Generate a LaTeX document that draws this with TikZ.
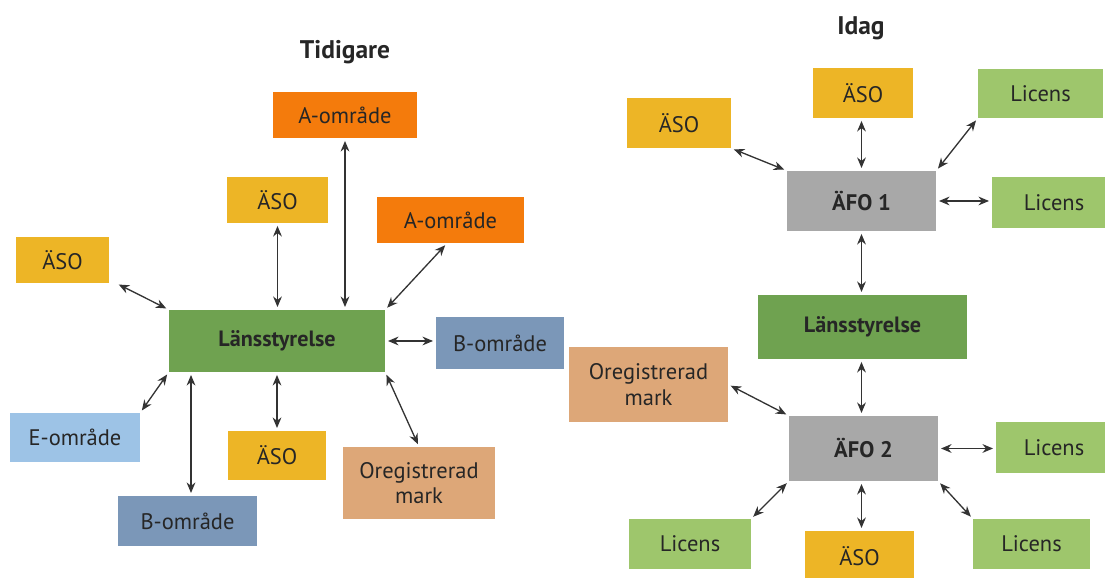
\documentclass[tikz,border=0pt]{standalone}
\usepackage{fontspec}
\setmainfont{PT Sans}
\usetikzlibrary{arrows.meta}

\definecolor{asoyel}{HTML}{EDB526}
\definecolor{aorange}{HTML}{F47B0C}
\definecolor{bblue}{HTML}{7B97B8}
\definecolor{eblue}{HTML}{9DC3E6}
\definecolor{oregtan}{HTML}{DDA778}
\definecolor{lansgreen}{HTML}{6FA250}
\definecolor{afogray}{HTML}{A8A8A8}
\definecolor{licgreen}{HTML}{9EC66C}

\begin{document}
\begin{tikzpicture}[
  every node/.style={inner sep=0pt, text=black!85, align=center,
    font=\fontsize{12.8}{14.5}\selectfont},
  title/.style={font=\fontsize{14.5}{16}\selectfont\bfseries},
  aso/.style={fill=asoyel},
  aomr/.style={fill=aorange},
  bomr/.style={fill=bblue},
  eomr/.style={fill=eblue},
  oreg/.style={fill=oregtan},
  lans/.style={fill=lansgreen, font=\fontsize{12.6}{14}\selectfont\bfseries},
  afo/.style={fill=afogray, font=\fontsize{12.8}{14}\selectfont\bfseries},
  lic/.style={fill=licgreen},
  link/.style={black!80, line width=0.75pt,
    {Stealth[length=6pt,width=5pt]}-{Stealth[length=6pt,width=5pt]},
    shorten <=1.5pt, shorten >=1.5pt}
]
  \useasboundingbox (0,0) rectangle (22.10,11.56);

  % Tidigare
  \node[title] (tidigare) at (6.90,10.52) {Tidigare};
  \node[aomr, minimum width=2.88cm, minimum height=0.92cm] (aomrTop) at (6.90,9.26) {A-område};
  \node[aso, minimum width=2.02cm, minimum height=0.92cm] (asoTop) at (5.55,7.56) {ÄSO};
  \node[aomr, minimum width=2.94cm, minimum height=0.92cm] (aomrRight) at (9.01,7.16) {A-område};
  \node[aso, minimum width=1.86cm, minimum height=0.92cm] (asoLeft) at (1.25,6.36) {ÄSO};
  \node[lans, minimum width=4.32cm, minimum height=1.24cm] (lansOld) at (5.54,4.74) {Länsstyrelse};
  \node[bomr, minimum width=2.56cm, minimum height=1.04cm] (bomrRight) at (10.00,4.70) {B-område};
  \node[eomr, minimum width=2.60cm, minimum height=0.98cm] (eomr) at (1.50,2.81) {E-område};
  \node[aso, minimum width=1.96cm, minimum height=0.98cm] (asoLow) at (5.54,2.45) {ÄSO};
  \node[oreg, minimum width=3.04cm, minimum height=1.44cm] (oregOld) at (8.38,1.90) {Oregistrerad\\mark};
  \node[bomr, minimum width=2.78cm, minimum height=1.00cm] (bomrLow) at (3.75,1.14) {B-område};

  \draw[link] ([xshift=4pt]asoLeft.south east) -- (lansOld.north west);
  \draw[link] (asoTop.south) -- (asoTop.south |- lansOld.north);
  \draw[link] (aomrTop.south) -- (aomrTop.south |- lansOld.north);
  \draw[link] ([xshift=-2pt]aomrRight.south) -- (lansOld.north east);
  \draw[link] (lansOld.east) -- (lansOld.east -| bomrRight.west);
  \draw[link] (lansOld.south east) -- (oregOld.north);
  \draw[link] (lansOld.south) -- (lansOld.south |- asoLow.north);
  \draw[link] ([xshift=2pt]bomrLow.north |- lansOld.south) -- ([xshift=2pt]bomrLow.north);
  \draw[link] (lansOld.south west) -- (eomr.north east);

  % Idag
  \node[title] (idag) at (17.22,11.00) {Idag};
  \node[aso, minimum width=2.00cm, minimum height=1.00cm] (asoIdTop) at (17.26,9.70) {ÄSO};
  \node[aso, minimum width=2.08cm, minimum height=1.00cm] (asoIdLeft) at (13.58,9.10) {ÄSO};
  \node[lic, minimum width=2.50cm, minimum height=0.98cm] (licTop) at (20.81,9.69) {Licens};
  \node[afo, minimum width=2.98cm, minimum height=1.20cm] (afoA) at (17.23,7.54) {ÄFO 1};
  \node[lic, minimum width=2.48cm, minimum height=1.02cm] (licA) at (21.08,7.51) {Licens};
  \node[lans, minimum width=4.18cm, minimum height=1.28cm] (lansNew) at (17.25,5.02) {Länsstyrelse};
  \node[oreg, minimum width=3.18cm, minimum height=1.50cm] (oregNew) at (12.97,3.87) {Oregistrerad\\mark};
  \node[afo, minimum width=2.98cm, minimum height=1.30cm] (afoB) at (17.27,2.59) {ÄFO 2};
  \node[lic, minimum width=2.32cm, minimum height=1.02cm] (licB) at (21.08,2.61) {Licens};
  \node[lic, minimum width=2.44cm, minimum height=1.00cm] (licLeft) at (13.80,0.68) {Licens};
  \node[aso, minimum width=2.18cm, minimum height=1.00cm] (asoIdLow) at (17.19,0.44) {ÄSO};
  \node[lic, minimum width=2.34cm, minimum height=1.00cm] (licRight) at (20.63,0.68) {Licens};

  \draw[link] (asoIdTop.south -| afoA.north) -- (afoA.north);
  \draw[link] (asoIdLeft.south east) -- (afoA.north west);
  \draw[link] (afoA.north east) -- (licTop.south west);
  \draw[link] (afoA.east) -- (afoA.east -| licA.west);
  \draw[link] (afoA.south) -- (afoA.south |- lansNew.north);
  \draw[link] (afoA.south |- lansNew.south) -- (afoA.south |- afoB.north);
  \draw[link] (oregNew.east) -- (afoB.north west);
  \draw[link] (afoB.east) -- (afoB.east -| licB.west);
  \draw[link] (afoB.south west) -- (licLeft.north east);
  \draw[link] (afoA.south |- afoB.south) -- (afoA.south |- asoIdLow.north);
  \draw[link] (afoB.south east) -- (licRight.north west);
\end{tikzpicture}
\end{document}
